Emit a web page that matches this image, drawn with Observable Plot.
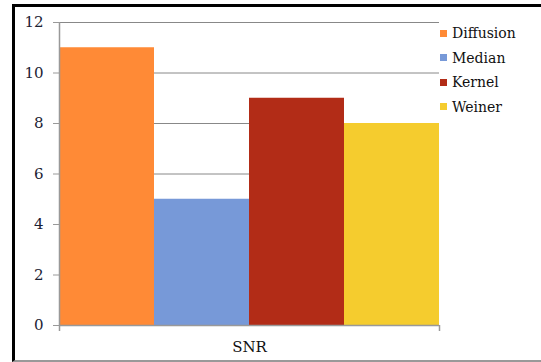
<!DOCTYPE html>
<html>
<head>
<meta charset="utf-8">
<script src="https://cdn.jsdelivr.net/npm/d3@7"></script>
<script src="https://cdn.jsdelivr.net/npm/@observablehq/plot@0.6"></script>
<style>
  html, body { margin: 0; padding: 0; background: #fff; overflow: hidden; }
  #wrap { position: relative; width: 541px; height: 362px; font-family: "DejaVu Serif", "DejaVu Sans", serif; }
  #frame { position: absolute; left: 12px; top: 4px; width: 540px; height: 353px;
           border-left: 3px solid #000; border-top: 3px solid #000; border-bottom: 2px solid #999; }
  #chart { position: absolute; left: 0; top: 0; }
  #legend { position: absolute; left: 440px; top: 21px; font-size: 14px; color: #111; }
  #legend div { height: 24.5px; display: flex; align-items: center; }
  #legend span.sw { display: inline-block; width: 7px; height: 7px; margin-right: 5px; }
</style>
</head>
<body>
<div id="wrap">
  <div id="frame"></div>
  <div id="chart"></div>
  <div id="legend"></div>
</div>
<script>
const categories = ["Diffusion", "Median", "Kernel", "Weiner"];
const values = [11, 5, 9, 8];
const colors = ["#FF8A36", "#7799D8", "#B22C17", "#F5CC2E"];
const groupLabel = "SNR";
const yTicks = [0, 2, 4, 6, 8, 10, 12];

const data = categories.map((c, i) => ({series: c, value: values[i], x1: i, x2: i + 1}));

const plot = Plot.plot({
  width: 541,
  height: 362,
  marginLeft: 59,
  marginRight: 102,
  marginTop: 22,
  marginBottom: 37,
  style: {fontFamily: "'DejaVu Serif', 'DejaVu Sans', serif", fontSize: "14px", color: "#1c2233", background: "transparent"},
  x: {type: "linear", domain: [0, categories.length], axis: null},
  y: {type: "linear", domain: [0, 12], axis: null},
  color: {domain: categories, range: colors},
  marks: [
    Plot.gridY(yTicks, {stroke: "#888", strokeOpacity: 1, strokeWidth: 1}),
    Plot.rectY(data, {x1: "x1", x2: "x2", y: "value", fill: "series", inset: 0}),
    Plot.ruleX([0], {stroke: "#999", strokeWidth: 1.5}),
    Plot.ruleY([0], {stroke: "#999", strokeWidth: 1.5}),
    Plot.axisY(yTicks, {tickSize: 6, tickPadding: 10, stroke: "#999", fontSize: 15, label: null}),
    Plot.axisX([0, categories.length], {tickSize: 6, tickFormat: () => "", stroke: "#999", strokeWidth: 1.5, label: null}),
    Plot.text([groupLabel], {x: categories.length / 2, y: 0, dy: 22, fontSize: 15, fill: "#111"})
  ]
});
document.getElementById("chart").appendChild(plot);

const legend = document.getElementById("legend");
categories.forEach((c, i) => {
  const row = document.createElement("div");
  const sw = document.createElement("span");
  sw.className = "sw";
  sw.style.background = colors[i];
  row.appendChild(sw);
  row.appendChild(document.createTextNode(c));
  legend.appendChild(row);
});
</script>
</body>
</html>
